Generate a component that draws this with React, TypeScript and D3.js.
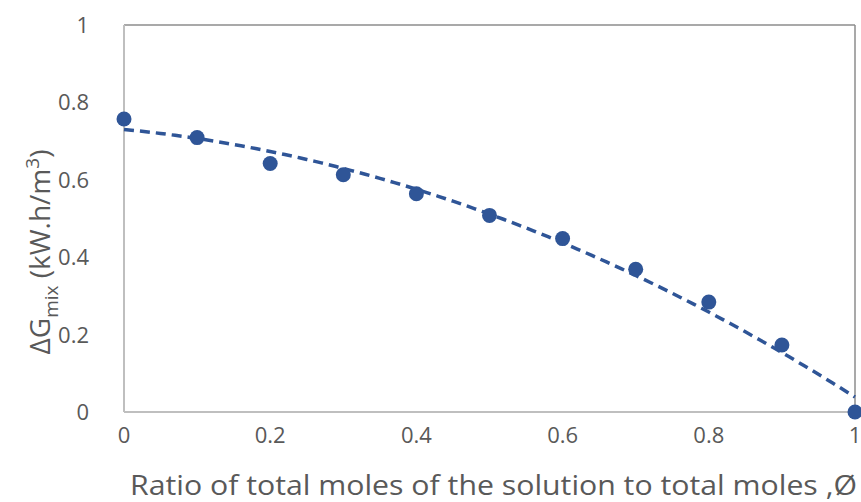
import React, { useEffect, useRef } from 'react';
import * as d3 from 'd3';

const ratios = [0, 0.1, 0.2, 0.3, 0.4, 0.5, 0.6, 0.7, 0.8, 0.9, 1];
const gibbsMix = [0.757, 0.709, 0.642, 0.613, 0.564, 0.508, 0.448, 0.369, 0.284, 0.173, 0];
const xTicks = [0, 0.2, 0.4, 0.6, 0.8, 1];
const yTicks = [0, 0.2, 0.4, 0.6, 0.8, 1];

// least squares fit, order 2 (same as the excel polynomial trendline)
function polyFit2(xs: number[], ys: number[]) {
  const s = (f: (x: number, y: number) => number) => d3.sum(xs, (x, i) => f(x, ys[i]));
  const n = xs.length;
  const sx = s(x => x), sx2 = s(x => x * x), sx3 = s(x => x ** 3), sx4 = s(x => x ** 4);
  const sy = s((x, y) => y), sxy = s((x, y) => x * y), sx2y = s((x, y) => x * x * y);
  const det = (m: number[][]) =>
    m[0][0] * (m[1][1] * m[2][2] - m[1][2] * m[2][1]) -
    m[0][1] * (m[1][0] * m[2][2] - m[1][2] * m[2][0]) +
    m[0][2] * (m[1][0] * m[2][1] - m[1][1] * m[2][0]);
  const A = [[n, sx, sx2], [sx, sx2, sx3], [sx2, sx3, sx4]];
  const b = [sy, sxy, sx2y];
  const D = det(A);
  const coef = [0, 1, 2].map(c => det(A.map((row, i) => row.map((v, j) => (j === c ? b[i] : v)))) / D);
  return (x: number) => coef[0] + coef[1] * x + coef[2] * x * x;
}

const App: React.FC = () => {
  const svgRef = useRef<SVGSVGElement | null>(null);
  const width = 861;
  const height = 502;

  useEffect(() => {
    document.body.style.margin = '0';
    const svg = d3.select(svgRef.current);
    svg.selectAll('*').remove();

    const x = d3.scaleLinear().domain([0, 1]).range([124, 855]);
    const y = d3.scaleLinear().domain([0, 1]).range([412, 25]);
    const blue = '#2f5597';
    const textCol = '#595959';
    const font = '"Open Sans", "DejaVu Sans", sans-serif';

    // plot area frame (top / right)
    svg.append('line').attr('x1', x(0)).attr('x2', x(1)).attr('y1', y(1)).attr('y2', y(1))
      .attr('stroke', '#8c8c8c').attr('stroke-width', 1.5);
    svg.append('line').attr('x1', x(1)).attr('x2', x(1)).attr('y1', y(1)).attr('y2', y(0))
      .attr('stroke', '#8c8c8c').attr('stroke-width', 1.5);

    // axis lines
    svg.append('line').attr('x1', x(0)).attr('x2', x(0)).attr('y1', y(1)).attr('y2', y(0))
      .attr('stroke', '#bfbfbf').attr('stroke-width', 2);
    svg.append('line').attr('x1', x(0)).attr('x2', x(1)).attr('y1', y(0)).attr('y2', y(0))
      .attr('stroke', '#bfbfbf').attr('stroke-width', 2);

    // tick labels
    svg.append('g').selectAll('text').data(yTicks).enter().append('text')
      .attr('x', 89).attr('y', d => y(d) + 8)
      .attr('text-anchor', 'end').attr('font-family', font).attr('font-size', 22)
      .attr('fill', textCol).text(d => String(d));
    svg.append('g').selectAll('text').data(xTicks).enter().append('text')
      .attr('x', d => x(d)).attr('y', 443)
      .attr('text-anchor', 'middle').attr('font-family', font).attr('font-size', 22)
      .attr('fill', textCol).text(d => String(d));

    // trendline
    const fit = polyFit2(ratios, gibbsMix);
    const line = d3.line<number>().x(d => x(d)).y(d => y(fit(d)));
    svg.append('path').datum(d3.range(0, 1.0001, 0.01))
      .attr('d', line).attr('fill', 'none').attr('stroke', blue)
      .attr('stroke-width', 3.5).attr('stroke-dasharray', '10,6');

    // points
    svg.append('g').selectAll('circle').data(ratios).enter().append('circle')
      .attr('cx', d => x(d)).attr('cy', (d, i) => y(gibbsMix[i]))
      .attr('r', 7.5).attr('fill', blue);

    // axis titles
    svg.append('text').attr('x', 130).attr('y', 495)
      .attr('font-family', font).attr('font-size', 27).attr('fill', textCol)
      .attr('textLength', 727).attr('lengthAdjust', 'spacingAndGlyphs')
      .text('Ratio of total moles of the solution to total moles ,Ø');

    const yt = svg.append('text').attr('transform', 'translate(50,252) rotate(-90)')
      .attr('text-anchor', 'middle').attr('font-family', font).attr('font-size', 28)
      .attr('fill', textCol);
    yt.append('tspan').text('ΔG');
    yt.append('tspan').attr('font-size', 19).attr('dy', 8).text('mix');
    yt.append('tspan').attr('dy', -8).text(' (kW.h/m');
    yt.append('tspan').attr('font-size', 19).attr('dy', -11).text('3');
    yt.append('tspan').attr('dy', 11).text(')');
  }, []);

  return <svg ref={svgRef} width={width} height={height} style={{ display: 'block' }} />;
};

export default App;
